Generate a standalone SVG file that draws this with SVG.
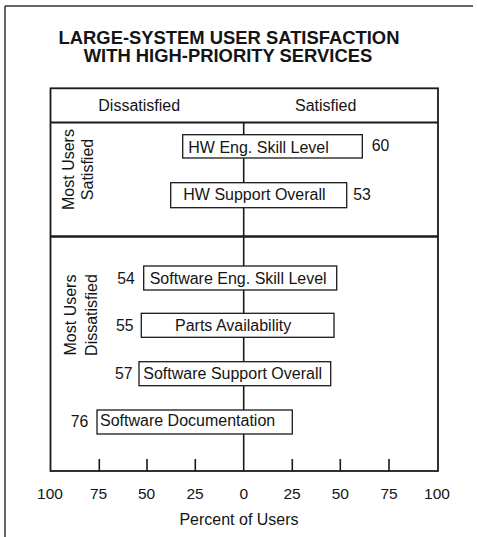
<svg xmlns="http://www.w3.org/2000/svg" width="477" height="537" viewBox="0 0 477 537">
<style>
text{font-family:"Liberation Sans",Arial,sans-serif;fill:#141414}
.t{font-size:18.4px;font-weight:bold;text-anchor:middle}
.l{font-size:16px}
.n{font-size:15.8px}
.ax{font-size:15.5px;text-anchor:middle}
.bar{fill:#fff;stroke:#1a1a1a;stroke-width:1.3}
.fr{fill:none;stroke:#1a1a1a;stroke-width:1.8}
.tk{stroke:#1a1a1a;stroke-width:1.6}
</style>
<rect width="477" height="537" fill="#fff"/>
<g id="frame">
<path d="M5,6 H473 M5,6 V537" fill="none" stroke="#333" stroke-width="1.5"/>
</g>
<g id="title">
<text class="t" x="229" y="43.5">LARGE-SYSTEM USER SATISFACTION</text>
<text class="t" x="228" y="62">WITH HIGH-PRIORITY SERVICES</text>
</g>
<g id="chart">
<rect class="fr" x="50.5" y="88.3" width="387.5" height="382.7"/>
<line class="fr" x1="50.5" y1="122.5" x2="438" y2="122.5"/>
<line x1="50.5" y1="236.5" x2="438" y2="236.5" stroke="#1a1a1a" stroke-width="2.6"/>
<text class="l" x="98.3" y="110.7">Dissatisfied</text>
<text class="l" x="295" y="110.7">Satisfied</text>
<text class="l" transform="translate(74,169.5) rotate(-90)" text-anchor="middle">Most Users</text>
<text class="l" transform="translate(92.8,169.5) rotate(-90)" text-anchor="middle">Satisfied</text>
<text class="l" transform="translate(75.5,315) rotate(-90)" text-anchor="middle">Most Users</text>
<text class="l" transform="translate(96.5,315) rotate(-90)" text-anchor="middle">Dissatisfied</text>
</g>
<g id="connectors">
<line class="tk" x1="243.7" y1="122.5" x2="243.7" y2="471"/>
<path class="tk" d="M99.3,459 V471 M147,459 V471 M195.3,459 V471 M292.3,459 V471 M340.3,459 V471 M389,459 V471"/>
</g>
<g id="axis">
<text class="ax" x="50" y="499">100</text>
<text class="ax" x="98.5" y="499">75</text>
<text class="ax" x="146.5" y="499">50</text>
<text class="ax" x="195" y="499">25</text>
<text class="ax" x="243.7" y="499">0</text>
<text class="ax" x="292" y="499">25</text>
<text class="ax" x="340.3" y="499">50</text>
<text class="ax" x="389" y="499">75</text>
<text class="ax" x="437" y="499">100</text>
<text class="l" x="239" y="525" text-anchor="middle">Percent of Users</text>
</g>
<g id="hw-eng">
<rect class="bar" x="182.7" y="134.7" width="179.6" height="23.3"/>
<text class="l" x="188.3" y="152.5">HW Eng. Skill Level</text>
<text class="n" x="371.7" y="151">60</text>
</g>
<g id="hw-support">
<rect class="bar" x="170.7" y="182.7" width="176" height="25"/>
<text class="l" x="183.3" y="200">HW Support Overall</text>
<text class="n" x="353.3" y="199.5">53</text>
</g>
<g id="sw-eng">
<rect class="bar" x="143.7" y="266" width="193" height="24"/>
<text class="l" x="149.7" y="284">Software Eng. Skill Level</text>
<text class="n" x="117.3" y="283.5">54</text>
</g>
<g id="parts">
<rect class="bar" x="141.3" y="313.3" width="192.7" height="24"/>
<text class="l" x="175" y="331.3">Parts Availability</text>
<text class="n" x="116" y="330.5">55</text>
</g>
<g id="sw-support">
<rect class="bar" x="139" y="361.7" width="191.7" height="24"/>
<text class="l" x="143.3" y="378.5">Software Support Overall</text>
<text class="n" x="115" y="378.5">57</text>
</g>
<g id="sw-doc">
<rect class="bar" x="97" y="410" width="195.3" height="24"/>
<text class="l" x="100" y="426">Software Documentation</text>
<text class="n" x="70.7" y="426.7">76</text>
</g>
</svg>
